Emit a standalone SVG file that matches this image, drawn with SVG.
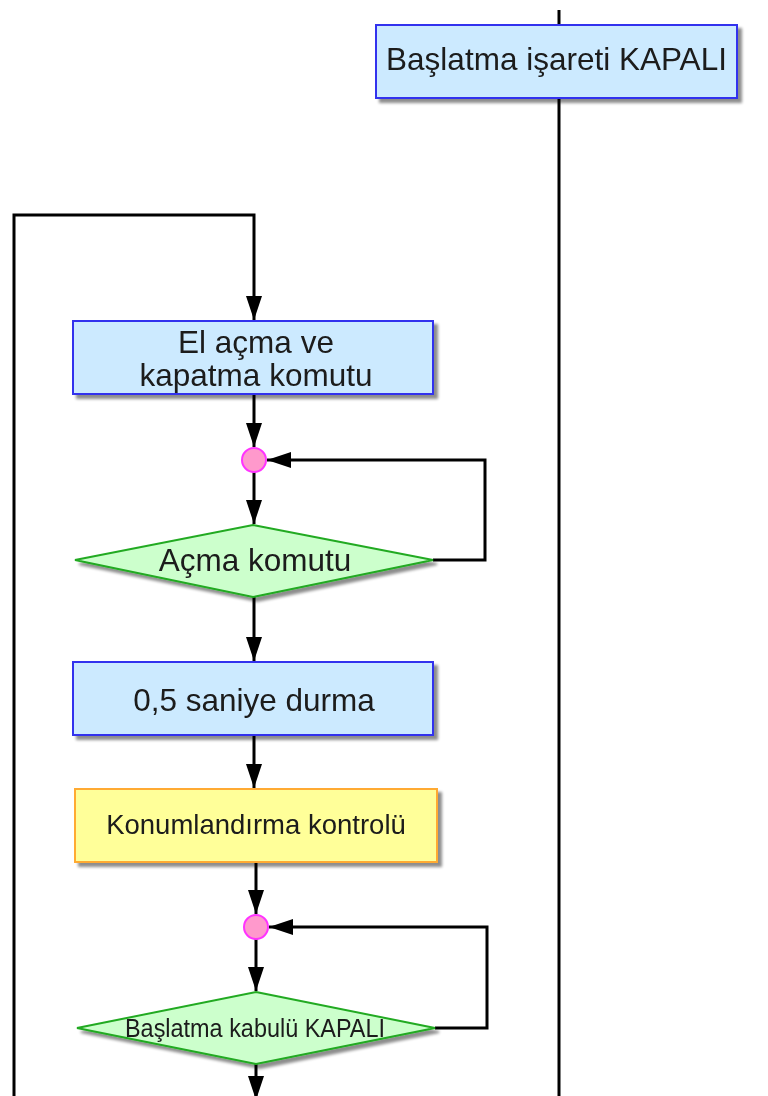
<svg xmlns="http://www.w3.org/2000/svg" width="768" height="1096" viewBox="0 0 768 1096">
  <defs>
    <filter id="shadow" x="-10%" y="-10%" width="130%" height="140%">
      <feGaussianBlur in="SourceAlpha" stdDeviation="1.5"/>
      <feOffset dx="4" dy="4" result="b"/>
      <feComponentTransfer><feFuncA type="linear" slope="0.45"/></feComponentTransfer>
      <feMerge><feMergeNode/><feMergeNode in="SourceGraphic"/></feMerge>
    </filter>
    <marker id="arrow" viewBox="0 0 24 16" refX="24" refY="8" markerWidth="24" markerHeight="16" markerUnits="userSpaceOnUse" orient="auto">
      <path d="M0,0 L24,8 L0,16 z" fill="#000"/>
    </marker>
  </defs>
  <style>
    .proc { fill: #cceaff; stroke: #3333ee; stroke-width: 2; }
    .sub { fill: #ffff99; stroke: #ffaa33; stroke-width: 2; }
    .dec { fill: #ccffcc; stroke: #22aa22; stroke-width: 2; }
    .join { fill: #ff99cc; stroke: #ff33ff; stroke-width: 2; }
    .line { fill: none; stroke: #000; stroke-width: 3; }
    .label { font-family: "Liberation Sans", Arial, sans-serif; fill: #1a1a1a; text-anchor: middle; }
  </style>
  <rect width="768" height="1096" fill="#fff"/>

  <g id="connectors">
    <line class="line" x1="559" y1="10" x2="559" y2="26"/>
    <line class="line" x1="559" y1="98" x2="559" y2="1096"/>
    <polyline class="line" points="14,1096 14,215 254,215 254,320" marker-end="url(#arrow)"/>
    <line class="line" x1="254" y1="394" x2="254" y2="447" marker-end="url(#arrow)"/>
    <line class="line" x1="254" y1="472" x2="254" y2="524" marker-end="url(#arrow)"/>
    <polyline class="line" points="433,560 485,560 485,460 267,460" marker-end="url(#arrow)"/>
    <line class="line" x1="254" y1="597" x2="254" y2="661" marker-end="url(#arrow)"/>
    <line class="line" x1="254" y1="735" x2="254" y2="788" marker-end="url(#arrow)"/>
    <line class="line" x1="256" y1="862" x2="256" y2="914" marker-end="url(#arrow)"/>
    <line class="line" x1="256" y1="939" x2="256" y2="991" marker-end="url(#arrow)"/>
    <polyline class="line" points="435,1028 487,1028 487,927 269,927" marker-end="url(#arrow)"/>
    <line class="line" x1="256" y1="1064" x2="256" y2="1100" marker-end="url(#arrow)"/>
  </g>

  <g id="start-signal-off" filter="url(#shadow)">
    <rect class="proc" x="376" y="25" width="361" height="73"/>
    <text class="label" x="556.5" y="70" font-size="31.5">Başlatma işareti KAPALI</text>
  </g>

  <g id="manual-open-close" filter="url(#shadow)">
    <rect class="proc" x="73" y="321" width="360" height="73"/>
    <text class="label" x="256" y="353" font-size="31.5">El açma ve</text>
    <text class="label" x="256" y="386" font-size="31.5">kapatma komutu</text>
  </g>

  <g id="join-1">
    <circle class="join" cx="254" cy="460" r="12"/>
  </g>

  <g id="open-command" filter="url(#shadow)">
    <polygon class="dec" points="253,525 433,560 253,597 75,560"/>
    <text class="label" x="255" y="571" font-size="31.5">Açma komutu</text>
  </g>

  <g id="wait-half-second" filter="url(#shadow)">
    <rect class="proc" x="73" y="662" width="360" height="73"/>
    <text class="label" x="254" y="711" font-size="31.5">0,5 saniye durma</text>
  </g>

  <g id="positioning-control" filter="url(#shadow)">
    <rect class="sub" x="75" y="789" width="362" height="73"/>
    <text class="label" x="256" y="834" font-size="27.5">Konumlandırma kontrolü</text>
  </g>

  <g id="join-2">
    <circle class="join" cx="256" cy="927" r="12"/>
  </g>

  <g id="start-accept-off" filter="url(#shadow)">
    <polygon class="dec" points="256,992 435,1028 256,1064 77,1028"/>
    <text class="label" x="255" y="1037" font-size="26" textLength="260" lengthAdjust="spacingAndGlyphs">Başlatma kabulü KAPALI</text>
  </g>
</svg>
